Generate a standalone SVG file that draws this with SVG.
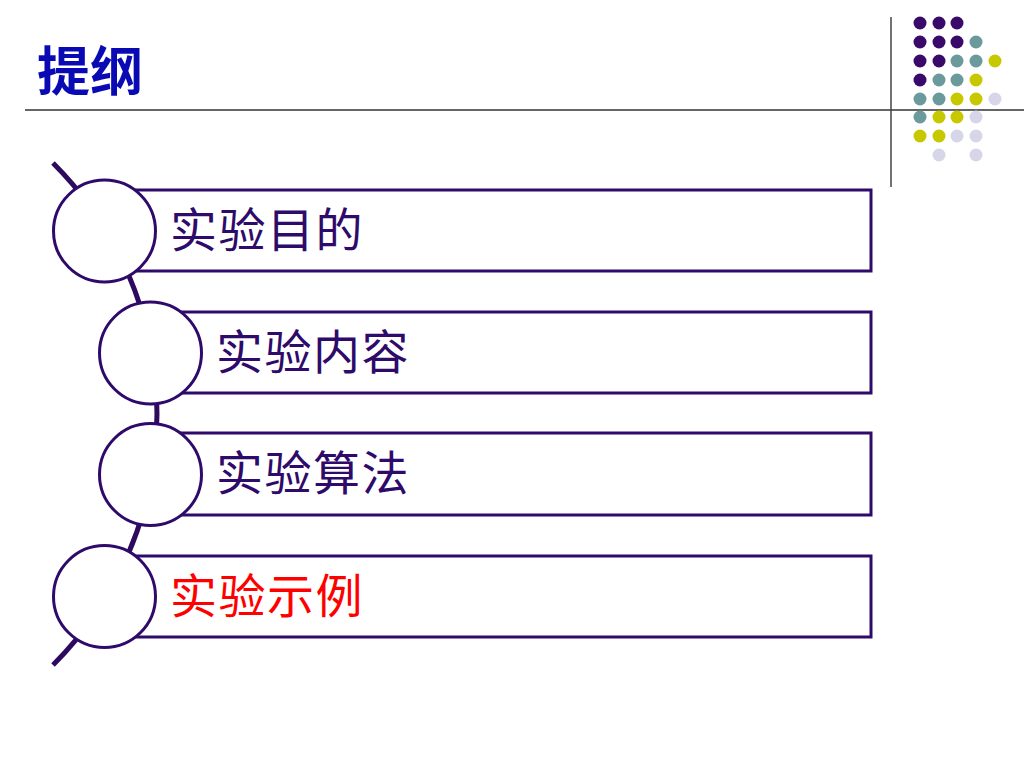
<svg xmlns="http://www.w3.org/2000/svg" width="1024" height="768" viewBox="0 0 1024 768">
<style>
.bar{fill:#fff;stroke:#2E0A6A;stroke-width:3}
.knob{fill:#fff;stroke:#2E0A6A;stroke-width:3}
.lbl{font-family:"Noto Sans CJK SC","Noto Sans CJK JP",sans-serif;font-size:47px;letter-spacing:1.5px;fill:#2E0A6A}
.p{fill:#3A0A6A}.t{fill:#6B9A9C}.y{fill:#C8C800}.l{fill:#D6D6E8}
</style>
<rect width="1024" height="768" fill="#fff"/>
<g id="title">
<text x="37" y="91" font-family="'Noto Sans CJK SC',sans-serif" font-size="53" font-weight="bold" fill="#0A0AB4">提纲</text>
</g>
<g id="frame-lines">
<line x1="25" y1="110" x2="1024" y2="110" stroke="#666" stroke-width="2"/>
<line x1="891" y1="17" x2="891" y2="187" stroke="#444" stroke-width="1.5"/>
</g>
<g id="dots">
<circle class="p" cx="920" cy="23" r="6.5"/><circle class="p" cx="939" cy="23" r="6.5"/><circle class="p" cx="957" cy="23" r="6.5"/>
<circle class="p" cx="920" cy="42" r="6.5"/><circle class="p" cx="939" cy="42" r="6.5"/><circle class="p" cx="957" cy="42" r="6.5"/><circle class="t" cx="976" cy="42" r="6.5"/>
<circle class="p" cx="920" cy="61" r="6.5"/><circle class="p" cx="939" cy="61" r="6.5"/><circle class="t" cx="957" cy="61" r="6.5"/><circle class="t" cx="976" cy="61" r="6.5"/><circle class="y" cx="995" cy="61" r="6.5"/>
<circle class="p" cx="920" cy="80" r="6.5"/><circle class="t" cx="939" cy="80" r="6.5"/><circle class="t" cx="957" cy="80" r="6.5"/><circle class="y" cx="976" cy="80" r="6.5"/>
<circle class="t" cx="920" cy="99" r="6.5"/><circle class="t" cx="939" cy="99" r="6.5"/><circle class="y" cx="957" cy="99" r="6.5"/><circle class="y" cx="976" cy="99" r="6.5"/><circle class="l" cx="995" cy="99" r="6.5"/>
<circle class="t" cx="920" cy="117" r="6.5"/><circle class="y" cx="939" cy="117" r="6.5"/><circle class="y" cx="957" cy="117" r="6.5"/><circle class="l" cx="976" cy="117" r="6.5"/>
<circle class="y" cx="920" cy="136" r="6.5"/><circle class="y" cx="939" cy="136" r="6.5"/><circle class="l" cx="957" cy="136" r="6.5"/><circle class="l" cx="976" cy="136" r="6.5"/>
<circle class="l" cx="939" cy="155" r="6.5"/><circle class="l" cx="976" cy="155" r="6.5"/>
</g>
<g id="connectors">
<path d="M53,163 A355,355 0 0 1 53,665" fill="none" stroke="#2E0A5E" stroke-width="5"/>
</g>
<g id="item1">
<rect class="bar" x="104" y="190" width="767" height="81"/>
<circle class="knob" cx="104.5" cy="231" r="51"/>
<text class="lbl" x="170" y="247">实验目的</text>
</g>
<g id="item2">
<rect class="bar" x="150" y="312" width="721" height="81"/>
<circle class="knob" cx="150.5" cy="353" r="51"/>
<text class="lbl" x="216" y="369">实验内容</text>
</g>
<g id="item3">
<rect class="bar" x="150" y="433" width="721" height="82"/>
<circle class="knob" cx="150.5" cy="474.5" r="51"/>
<text class="lbl" x="216" y="490">实验算法</text>
</g>
<g id="item4">
<rect class="bar" x="104" y="556" width="767" height="81"/>
<circle class="knob" cx="104.5" cy="596.5" r="51"/>
<text class="lbl" x="170" y="613" style="fill:#FF0000">实验示例</text>
</g>
</svg>
